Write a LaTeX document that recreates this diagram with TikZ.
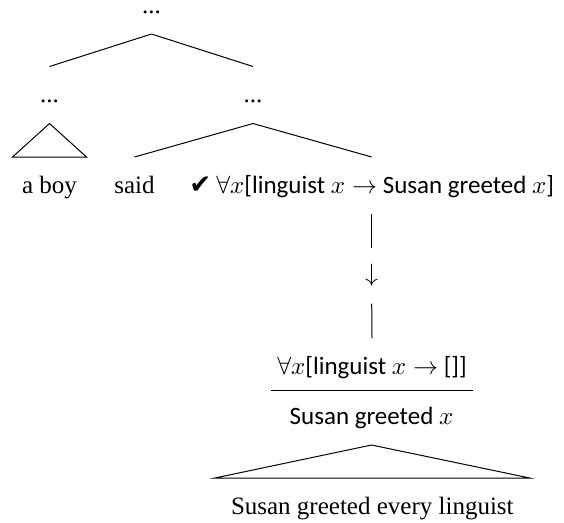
\documentclass[tikz,border=0pt]{standalone}
\usepackage{fontspec}
\setmainfont{Liberation Serif}
\newfontfamily\logicfont{Carlito}
\newfontfamily\checkfont{DejaVu Sans}
\newcommand{\tick}{{\checkfont\fontsize{10.5pt}{12pt}\selectfont ✔}}
\tikzset{word/.style={inner sep=0pt, anchor=base, text height=14.2pt, text depth=8.2pt}}
\begin{document}
\begin{tikzpicture}[x=0.4pt, y=-0.4pt]
        \useasboundingbox (0,0) rectangle (564,522);

        \node[word] (root) at (151.5,13) {...};
        \node[word] (dl) at (49.5,102.5) {...};
        \node[word] (dr) at (253,102.5) {...};
        \draw[] (root.south) -- (dl.north);
        \draw[] (root.south) -- (dr.north);

        \node[word] (boy) at (49.5,193) {a boy};
        \node[word] (said) at (134.5,193) {said};
        \node[word] (form) at (371.7,193) {\tick\kern2pt\logicfont $\forall x$[linguist $x \to$ Susan greeted $x$]};
        \draw[] (dl.south) -- ([xshift=-14.8pt]boy.north) -- ([xshift=14.8pt]boy.north) -- cycle;
        \draw[] (dr.south) -- (said.north);
        \draw[] (dr.south) -- (form.north);

        % the type shift
        \node[inner sep=0pt, minimum height=22pt] (arr) at (371.7,275.5) {$\downarrow$};
        \draw[] (form.south) -- (arr.north);

        \node[word, inner xsep=2.3pt, text depth=6.4pt] (restr) at (372,374) {\logicfont $\forall x$[linguist $x \to$ []]};
        \draw[] (arr.south) -- (restr.north);
        \draw[] (restr.south west) -- (restr.south east);
        \node[word] (scope) at (371.5,424) {\logicfont Susan greeted $x$};

        \node[word] (sent) at (372.3,514) {Susan greeted every linguist};
        \draw[] (scope.south) -- ([xshift=-63pt]sent.north) -- ([xshift=63pt]sent.north) -- cycle;
\end{tikzpicture}
\end{document}
